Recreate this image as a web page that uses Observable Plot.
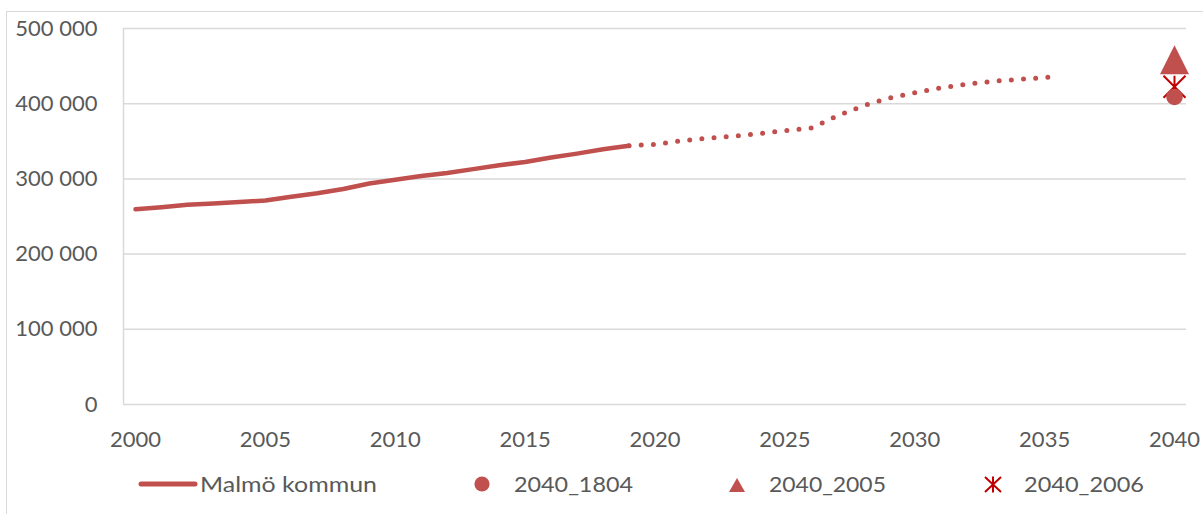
<!DOCTYPE html>
<html><head><meta charset="utf-8">
<script src="https://cdn.jsdelivr.net/npm/d3@7"></script>
<script src="https://cdn.jsdelivr.net/npm/@observablehq/plot@0.6"></script>
<style>
body{margin:0;background:#fff;}
#wrap{position:relative;width:1203px;height:514px;overflow:hidden;font-family:Lato,sans-serif;background:#fff;}
#frame{position:absolute;left:6px;top:11px;width:1400px;height:700px;border-left:1.5px solid #d9d9d9;border-top:1.5px solid #d9d9d9;}
#chart{position:absolute;left:0;top:0;}
#legend{position:absolute;left:0;top:460px;}
</style></head><body>
<div id="wrap"><div id="frame"></div><div id="chart"></div><div id="legend"></div></div>
<script>
// ---- data ----
const seriesName = "Malmö kommun";
const histYears = [2000,2001,2002,2003,2004,2005,2006,2007,2008,2009,2010,2011,2012,2013,2014,2015,2016,2017,2018,2019];
const histValues = [259579,262397,265481,267171,269142,271271,276244,280801,286535,293909,298963,303873,307758,312994,318107,322574,328494,333633,339313,344166];
const fcYears = [2019,2020,2021,2022,2023,2024,2025,2026,2027,2028,2029,2030,2031,2032,2033,2034,2035,2035.5];
const fcValues = [344166,346000,350500,354000,356700,360300,364000,367500,383500,397000,407500,414500,421000,426000,429800,432200,434900,435700];
const scenarioYear = 2040;
const scenarioNames = ["2040_1804","2040_2005","2040_2006"];
const scenarioValues = [409000,458500,422500];
const xTicks = [2000,2005,2010,2015,2020,2025,2030,2035,2040];
const yTicks = [0,100000,200000,300000,400000,500000];

const red = "#C0504D", darkRed = "#C00000", grid = "#d9d9d9", txt = "#595959";
const xDomain = [1999.538, 2040.462];

const hist = histYears.map((y,i)=>({year:y, value:histValues[i]}));
const fc = fcYears.map((y,i)=>({year:y, value:fcValues[i]}));
const scen = scenarioNames.map((n,i)=>({name:n, year:scenarioYear, value:scenarioValues[i]}));

const triSym = {draw(ctx,size){const r=Math.sqrt(size/Math.PI); ctx.moveTo(0,-r); ctx.lineTo(r,r); ctx.lineTo(-r,r); ctx.closePath();}};
const starSym = {draw(ctx,size){const r=Math.sqrt(size/Math.PI);
  ctx.moveTo(-r,-r); ctx.lineTo(r,r); ctx.moveTo(r,-r); ctx.lineTo(-r,r); ctx.moveTo(0,-r); ctx.lineTo(0,r);}};

const fmt = d => d3.format(",")(d).replace(/,/g," ");

const chart = Plot.plot({
  width:1203, height:460,
  marginLeft:123, marginRight:17, marginTop:28, marginBottom:56,
  style:{fontFamily:"Lato, sans-serif", fontSize:"22px", color:txt, background:"transparent", overflow:"visible"},
  x:{type:"linear", domain:xDomain, ticks:xTicks, tickFormat:d=>String(d), tickSize:0, tickPadding:27, label:null},
  y:{domain:[0,500000], ticks:yTicks, tickFormat:fmt, tickSize:0, tickPadding:26, label:null},
  marks:[
    Plot.ruleY(yTicks,{stroke:grid, strokeWidth:1.5}),
    Plot.ruleX([xDomain[0]],{stroke:grid, strokeWidth:1.5}),
    Plot.line(hist,{x:"year", y:"value", stroke:red, strokeWidth:4.5, strokeLinecap:"round", strokeLinejoin:"round"}),
    Plot.line(fc,{x:"year", y:"value", stroke:red, strokeWidth:5, strokeLinecap:"round", strokeDasharray:"0 12.2"}),
    Plot.dot(scen.filter(d=>d.name==="2040_2006"),{x:"year", y:"value", r:11, symbol:starSym, fill:"none", stroke:darkRed, strokeWidth:2}),
    Plot.dot(scen.filter(d=>d.name==="2040_1804"),{x:"year", y:"value", r:8.3, fill:red, stroke:"none"}),
    Plot.dot(scen.filter(d=>d.name==="2040_2005"),{x:"year", y:"value", r:14.5, symbol:triSym, fill:red, stroke:"none"})
  ]
});
document.getElementById("chart").appendChild(chart);

// ---- legend ----
const lg = d3.select("#legend").append("svg").attr("width",1203).attr("height",54)
  .style("font-family","Lato, sans-serif").style("font-size","22px");
const cy = 24, base = 32;
lg.append("line").attr("x1",141).attr("x2",195).attr("y1",cy).attr("y2",cy)
  .attr("stroke",red).attr("stroke-width",5).attr("stroke-linecap","round");
lg.append("text").attr("x",200).attr("y",base).attr("fill",txt)
  .attr("textLength",177).attr("lengthAdjust","spacingAndGlyphs").text(seriesName);
lg.append("circle").attr("cx",482).attr("cy",cy).attr("r",7.6).attr("fill",red);
lg.append("text").attr("x",514).attr("y",base).attr("fill",txt)
  .attr("textLength",119).attr("lengthAdjust","spacingAndGlyphs").text(scenarioNames[0]);
lg.append("path").attr("d","M737,18L745,32L729,32Z").attr("fill",red);
lg.append("text").attr("x",769).attr("y",base).attr("fill",txt)
  .attr("textLength",117).attr("lengthAdjust","spacingAndGlyphs").text(scenarioNames[1]);
lg.append("path").attr("d","M993,16.5L993,32.5M985,17L1001,32M1001,17L985,32")
  .attr("stroke",darkRed).attr("stroke-width",2).attr("fill","none");
lg.append("text").attr("x",1024).attr("y",base).attr("fill",txt)
  .attr("textLength",120).attr("lengthAdjust","spacingAndGlyphs").text(scenarioNames[2]);
</script>
</body></html>
